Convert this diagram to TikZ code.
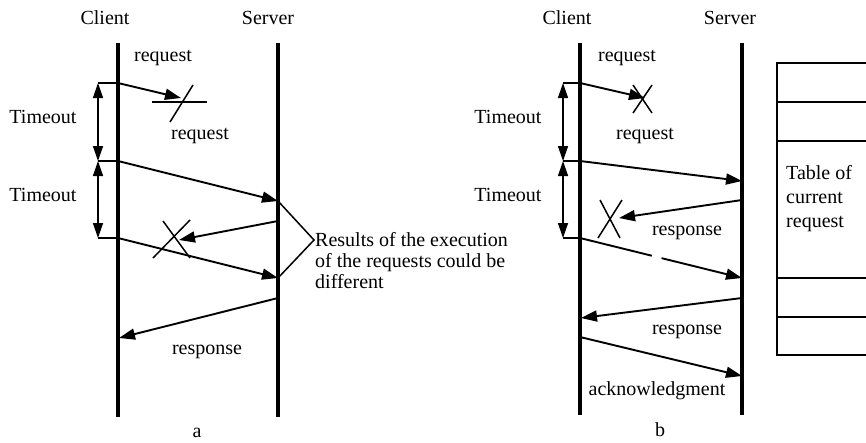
\documentclass[tikz,border=0pt]{standalone}
\usepackage{fontspec}
\setmainfont{Liberation Serif}
\usetikzlibrary{arrows.meta}
\begin{document}
\begin{tikzpicture}[x=1pt,y=-1pt,
  life/.style={line width=3.2pt},
  msg/.style={line width=1.9pt,-{Triangle[length=16pt,width=11pt]}},
  plain/.style={line width=1.9pt},
  tmo/.style={line width=1.4pt,{Triangle[length=15pt,width=10pt]}-{Triangle[length=15pt,width=10pt]}},
  crs/.style={line width=1.5pt},
  tbl/.style={line width=1.8pt},
  lbl/.style={font=\fontsize{20}{21}\selectfont, inner sep=0pt},
  lbll/.style={font=\fontsize{20}{21}\selectfont, inner sep=0pt, align=left},
  tbltxt/.style={font=\fontsize{20}{24}\selectfont, inner sep=0pt, align=left}]
\useasboundingbox (0,0) rectangle (866,442);

% ===== left diagram (a) =====
\coordinate (acT) at (118,43); \coordinate (acB) at (118,417);
\coordinate (asT) at (278,43); \coordinate (asB) at (278,417);
\draw[life] (acT) -- (acB);
\draw[life] (asT) -- (asB);
\node[lbl] (aclient) at (105,18) {Client};
\node[lbl] (aserver) at (268,18) {Server};
\node[lbl] (areq1) at (163,58) {request};
\node[lbl] (areq2) at (200,136) {request};
\node[lbl] (ato1) at (43,117) {Timeout};
\node[lbl] (ato2) at (43,195) {Timeout};
\node[lbl] (aresp) at (207,352) {response};
\node[lbl] (alab) at (197,433) {a};

\coordinate (at1) at (98,83);  \coordinate (ac1) at (118,83);  \coordinate (ax1) at (181,98);
\coordinate (at2) at (98,161); \coordinate (ac2) at (118,161); \coordinate (as2) at (278,201);
\coordinate (at3) at (98,238); \coordinate (ac3) at (118,238); \coordinate (as3) at (278,278);
\coordinate (as4) at (278,221); \coordinate (ax4) at (179,240);
\coordinate (as5) at (278,298); \coordinate (ac5) at (119,338);

\draw[tmo] (at1) -- (at2);
\draw[tmo] (at2) -- (at3);
\draw[plain] (at1) -- (ac1);
\draw[msg] (ac1) -- (ax1);
\draw[crs] (152,102) -- (207,102);
\draw[crs] (170,122) -- (193,85);
\draw[plain] (at2) -- (ac2);
\draw[msg] (ac2) -- (as2);
\draw[msg] (as4) -- (ax4);
\draw[crs] (153,258) -- (190,220);
\draw[crs] (163,221) -- (190,258);
\draw[plain] (at3) -- (ac3);
\draw[msg] (ac3) -- (as3);
\draw[msg] (as5) -- (ac5);

\coordinate (abr) at (314,240);
\draw[crs] (as2) -- (abr) -- (as3);
\node[lbll, anchor=west] (ares) at (315,261) {Results of the execution\\of the requests could be\\different};

% ===== right diagram (b) =====
\coordinate (bcT) at (580,43); \coordinate (bcB) at (580,415);
\coordinate (bsT) at (742,43); \coordinate (bsB) at (742,415);
\draw[life] (bcT) -- (bcB);
\draw[life] (bsT) -- (bsB);
\node[lbl] (bclient) at (567,18) {Client};
\node[lbl] (bserver) at (730,18) {Server};
\node[lbl] (breq1) at (627,58) {request};
\node[lbl] (breq2) at (645,136) {request};
\node[lbl] (bto1) at (508,117) {Timeout};
\node[lbl] (bto2) at (508,195) {Timeout};
\node[lbl] (bresp1) at (687,233) {response};
\node[lbl] (bresp2) at (687,332) {response};
\node[lbl] (back) at (657,391) {acknowledgment};
\node[lbl] (blab) at (660,430) {b};

\coordinate (bt1) at (563,83);  \coordinate (bc1) at (580,83);  \coordinate (bx1) at (645,98);
\coordinate (bt2) at (563,161); \coordinate (bc2) at (580,161); \coordinate (bs2) at (742,181);
\coordinate (bt3) at (563,238); \coordinate (bc3) at (580,238); \coordinate (bs3) at (742,278);
\coordinate (bs4) at (742,200); \coordinate (bx4) at (619,218);
\coordinate (bs5) at (742,298); \coordinate (bc5) at (581,318);
\coordinate (bc6) at (580,337); \coordinate (bs6) at (742,376);

\draw[tmo] (bt1) -- (bt2);
\draw[tmo] (bt2) -- (bt3);
\draw[plain] (bt1) -- (bc1);
\draw[msg] (bc1) -- (bx1);
\draw[crs] (633,113) -- (652,85);
\draw[crs] (633,85) -- (652,113);
\draw[plain] (bt2) -- (bc2);
\draw[msg] (bc2) -- (bs2);
\draw[msg] (bs4) -- (bx4);
\draw[crs] (600,200) -- (620,238);
\draw[crs] (622,200) -- (598,238);
\draw[plain] (bt3) -- (bc3);
\draw[msg, dash pattern=on 74pt off 10pt on 200pt] (bc3) -- (bs3);
\draw[msg] (bs5) -- (bc5);
\draw[msg] (bc6) -- (bs6);

% ===== table =====
\draw[tbl] (866,63) -- (777,63) -- (777,355) -- (866,355);
\draw[tbl] (777,102) -- (866,102);
\draw[tbl] (777,141) -- (866,141);
\draw[tbl] (777,278) -- (866,278);
\draw[tbl] (777,317) -- (866,317);
\node[tbltxt, anchor=west] (ttxt) at (786,199) {Table of\\current\\request};
\end{tikzpicture}
\end{document}
